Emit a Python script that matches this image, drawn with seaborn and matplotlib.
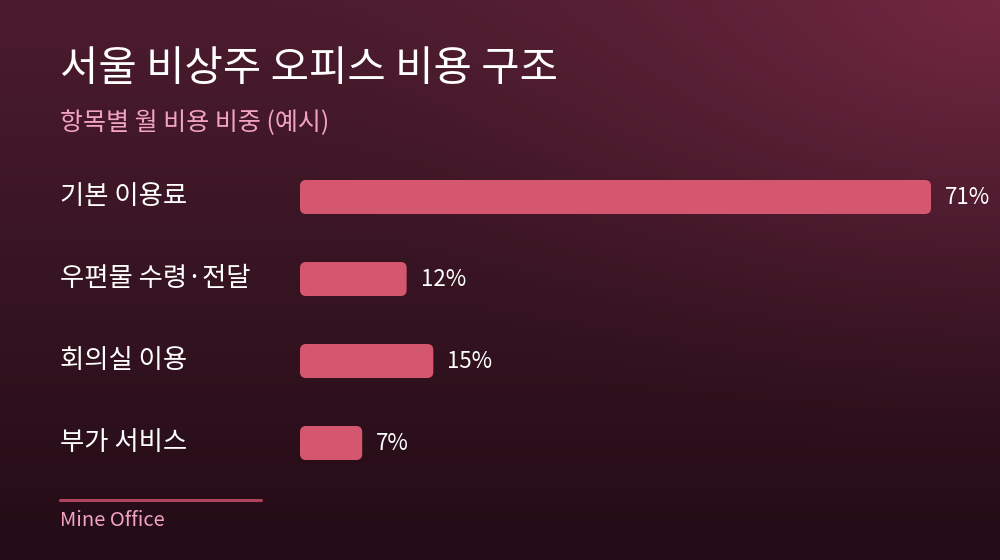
import numpy as np
import pandas as pd
import matplotlib
matplotlib.use("Agg")
import matplotlib.pyplot as plt
from matplotlib.patches import FancyBboxPatch
import seaborn as sns

categories = ["기본 이용료", "우편물 수령·전달", "회의실 이용", "부가 서비스"]
shares = [71, 12, 15, 7]
value_labels = ["71%", "12%", "15%", "7%"]

TITLE = "서울 비상주 오피스 비용 구조"
SUBTITLE = "항목별 월 비용 비중 (예시)"
SOURCE = "Mine Office"

BAR = "#d4566f"
PINK = "#f2a2c4"

sns.set_theme(style="white")
plt.rcParams["font.family"] = ["Noto Sans CJK KR", "DejaVu Sans"]

W, H = 1000, 560
fig = plt.figure(figsize=(W / 100, H / 100), dpi=100)

# background: vertical gradient plus a glow at the top right
bg = fig.add_axes([0, 0, 1, 1])
yy, xx = np.mgrid[0:1:280j, 0:1:500j]
top = np.array([0x4c, 0x1c, 0x2e]) / 255
bot = np.array([0x22, 0x0c, 0x15]) / 255
base = top[None, None, :] * (1 - yy[..., None]) + bot[None, None, :] * yy[..., None]
d = np.sqrt(((xx - 1.0) * 1.0) ** 2 + ((yy - 0.0) * 0.9) ** 2)
glow = np.clip(1 - d / 0.75, 0, 1) ** 1.6
glow_col = np.array([0x80, 0x2c, 0x48]) / 255
img = base * (1 - glow[..., None] * 0.75) + glow_col[None, None, :] * glow[..., None] * 0.75
bg.imshow(img, aspect="auto", extent=[0, 1, 0, 1], origin="upper")
bg.set_axis_off()

# bar area: left edge at x=300, longest bar ends at x=931
left_px, right_px = 300, 931
top_px, bot_px = 156, 484
ax = fig.add_axes([left_px / W, 1 - bot_px / H, (right_px - left_px) / W, (bot_px - top_px) / H])
ax.patch.set_alpha(0)

df = pd.DataFrame({"category": categories, "share": shares})
sns.barplot(data=df, x="share", y="category", orient="h", color=BAR,
            width=34 / 82, saturation=1, ax=ax)
ax.set_xlim(0, max(shares))
ax.set_xlabel("")
ax.set_ylabel("")
ax.set_xticks([])
ax.set_yticks([])
for s in ax.spines.values():
    s.set_visible(False)

# swap plain bars for rounded ones
x_per_px = max(shares) / (right_px - left_px)
y_per_px = (len(categories)) / (bot_px - top_px)
for p in list(ax.patches):
    x0, y0, w, h = p.get_x(), p.get_y(), p.get_width(), p.get_height()
    p.remove()
    ax.add_patch(FancyBboxPatch((x0, y0), w, h,
                                boxstyle=f"round,pad=0,rounding_size={6 * x_per_px}",
                                mutation_aspect=y_per_px / x_per_px,
                                facecolor=BAR, edgecolor="none"))

for i, (v, lab) in enumerate(zip(shares, value_labels)):
    ax.text(v + 14 * x_per_px, i, lab, va="center", ha="left", color="white",
            fontsize=16, clip_on=False)

for i, cat in enumerate(categories):
    fig.text(60 / W, 1 - (196 + 82 * i) / H, cat, ha="left", va="center",
             color="white", fontsize=19)

fig.text(60 / W, 1 - 70 / H, TITLE, ha="left", va="center", color="white",
         fontsize=30, fontweight="medium")
fig.text(60 / W, 1 - 123 / H, SUBTITLE, ha="left", va="center", color=PINK,
         fontsize=18)

line = plt.Line2D([60 / W, 261 / W], [1 - 500 / H, 1 - 500 / H], transform=fig.transFigure,
                  color="#b0445f", linewidth=2.2)
fig.add_artist(line)
fig.text(60 / W, 1 - 521 / H, SOURCE, ha="left", va="center", color=PINK, fontsize=14.5)

fig.savefig("out.png", dpi=100)
